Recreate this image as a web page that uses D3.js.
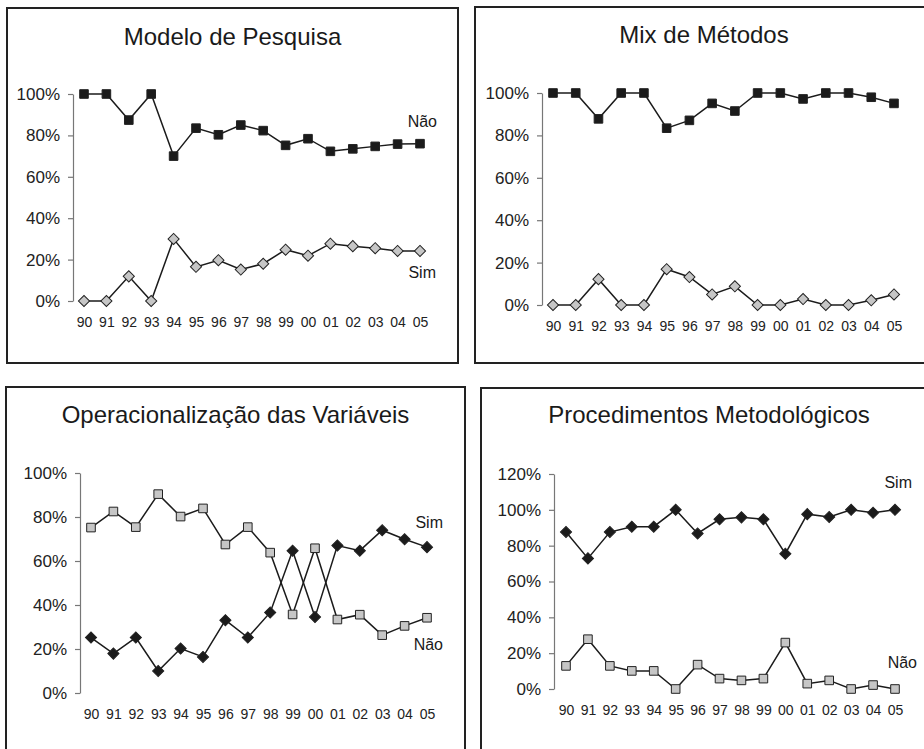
<!DOCTYPE html>
<html>
<head>
<meta charset="utf-8">
<script src="https://cdn.jsdelivr.net/npm/d3@7/dist/d3.min.js"></script>
<style>
  body { margin: 0; background: #fff; }
  svg { display: block; font-family: "Liberation Sans", Arial, Helvetica, sans-serif; }
  .y__axis path, .y__axis line { stroke: #777; stroke-width: 1.2; }
  .y__axis text { font-size: 17px; fill: #222; }
  .x__axis text { font-size: 14px; fill: #222; }
</style>
</head>
<body>
<div class="charts"></div>
<script>
// ---- data ----
var years = ["90","91","92","93","94","95","96","97","98","99","00","01","02","03","04","05"];
var ticks100 = [0, 20, 40, 60, 80, 100];
var ticks120 = [0, 20, 40, 60, 80, 100, 120];

var modeloNao = [100, 100, 87.4, 100, 70, 83.5, 80.3, 85, 82.3, 75.2, 78.4, 72.3, 73.5, 74.7, 75.8, 76];
var modeloSim = [0, 0, 11.9, 0, 30, 16.5, 19.7, 15.2, 18, 24.8, 21.9, 27.7, 26.5, 25.5, 24.2, 24.2];

var mixNao = [100, 100, 87.8, 100, 100, 83.4, 87.1, 95.1, 91.5, 100, 100, 97.2, 100, 100, 98, 95.1];
var mixSim = [0, 0, 12.2, 0, 0, 16.9, 13.2, 5, 8.8, 0, 0, 2.8, 0, 0, 2.2, 5];

var operNao = [75.2, 82.5, 75.4, 90.4, 80.2, 83.9, 67.5, 75.4, 63.8, 35.7, 65.8, 33.4, 35.6, 26.3, 30.5, 34.2];
var operSim = [25.2, 17.9, 25.2, 10, 20.2, 16.4, 33.1, 25.2, 36.6, 64.7, 34.5, 67, 64.7, 74, 69.9, 66.3];

var procSim = [87.6, 72.9, 87.6, 90.6, 90.6, 100, 86.8, 94.7, 95.8, 94.7, 75.5, 97.6, 96, 100, 98.4, 100];
var procNao = [12.9, 27.8, 12.9, 10.1, 10.1, 0, 13.6, 5.8, 4.8, 5.8, 25.9, 3, 4.8, 0, 2.2, 0];

var width = 924, height = 749;
var BLACK = "#1b1b1b", GRAY = "#c6c6c6";

// panel layout
var panels = [
  { title: "Modelo de Pesquisa", box: [7, 8, 458, 363], titleY: 45,
    axisX: 73, x0: 84, x1: 420, yTop: 94, yBot: 301, max: 100, ticks: ticks100,
    series: [
      { values: modeloNao, shape: "square", fill: BLACK, label: "Não", lx: 17, lv: 84 },
      { values: modeloSim, shape: "diamond", fill: GRAY, label: "Sim", lx: 16, lv: 11 }
    ] },
  { title: "Mix de Métodos", box: [475, 7, 940, 363], titleX: 704, titleY: 43,
    axisX: 542, x0: 553, x1: 894, yTop: 93, yBot: 305, max: 100, ticks: ticks100,
    series: [
      { values: mixNao, shape: "square", fill: BLACK },
      { values: mixSim, shape: "diamond", fill: GRAY }
    ] },
  { title: "Operacionalização das Variáveis", box: [6, 387, 465, 770], titleY: 423,
    axisX: 80, x0: 91, x1: 427, yTop: 473, yBot: 693, max: 100, ticks: ticks100,
    series: [
      { values: operNao, shape: "square", fill: GRAY, label: "Não", lx: 16, lv: 19.5 },
      { values: operSim, shape: "diamond", fill: BLACK, label: "Sim", lx: 16, lv: 75 }
    ] },
  { title: "Procedimentos Metodológicos", box: [481, 388, 940, 770], titleX: 709, titleY: 423,
    axisX: 554, x0: 566, x1: 895, yTop: 474, yBot: 689, max: 120, ticks: ticks120,
    series: [
      { values: procNao, shape: "square", fill: GRAY, label: "Não", lx: 22, lv: 11.6 },
      { values: procSim, shape: "diamond", fill: BLACK, label: "Sim", lx: 17, lv: 112 }
    ] }
];

var svg = d3.select("div.charts").append("svg")
  .attr("width", width)
  .attr("height", height);

var squareSym = d3.symbol().type(d3.symbolSquare).size(74);
var diamondSym = d3.symbol().type(d3.symbolSquare).size(62);

panels.forEach(function(p) {
  var g = svg.append("g");

  // frame
  g.append("rect")
    .attr("x", p.box[0]).attr("y", p.box[1])
    .attr("width", p.box[2] - p.box[0]).attr("height", p.box[3] - p.box[1])
    .attr("fill", "none").attr("stroke", "#222").attr("stroke-width", 2);

  g.append("text")
    .attr("x", p.titleX || (p.box[0] + p.box[2]) / 2)
    .attr("y", p.titleY)
    .attr("text-anchor", "middle")
    .attr("font-size", "24px")
    .attr("fill", "#1a1a1a")
    .text(p.title);

  var xScale = d3.scalePoint().domain(years).range([p.x0, p.x1]);
  var yScale = d3.scaleLinear().domain([0, p.max]).range([p.yBot, p.yTop]);

  // y-axis
  g.append("g")
    .attr("class", "y__axis")
    .attr("transform", "translate(" + p.axisX + ",0)")
    .call(d3.axisLeft(yScale).tickValues(p.ticks).tickSize(5).tickSizeOuter(0).tickPadding(8)
      .tickFormat(function(d) { return d + "%"; }));

  // x labels
  var xa = g.append("g")
    .attr("class", "x__axis")
    .attr("transform", "translate(0," + p.yBot + ")")
    .call(d3.axisBottom(xScale).tickSize(0).tickPadding(16));
  xa.select(".domain").remove();

  p.series.forEach(function(s) {
    var pts = years.map(function(y, i) { return [xScale(y), yScale(s.values[i])]; });

    g.append("path")
      .attr("d", d3.line()(pts))
      .attr("fill", "none")
      .attr("stroke", BLACK)
      .attr("stroke-width", 1.5);

    g.selectAll(null)
      .data(pts)
      .enter()
      .append("path")
      .attr("d", s.shape == "square" ? squareSym() : diamondSym())
      .attr("transform", function(d) {
        return "translate(" + d[0] + "," + d[1] + ")" + (s.shape == "diamond" ? " rotate(45)" : "");
      })
      .attr("fill", s.fill)
      .attr("stroke", "#222")
      .attr("stroke-width", 1);

    if (s.label) {
      g.append("text")
        .attr("x", xScale(years[years.length - 1]) + s.lx)
        .attr("y", yScale(s.lv))
        .attr("text-anchor", "end")
        .attr("font-size", "16px")
        .attr("fill", "#1a1a1a")
        .text(s.label);
    }
  });
});
</script>
</body>
</html>
